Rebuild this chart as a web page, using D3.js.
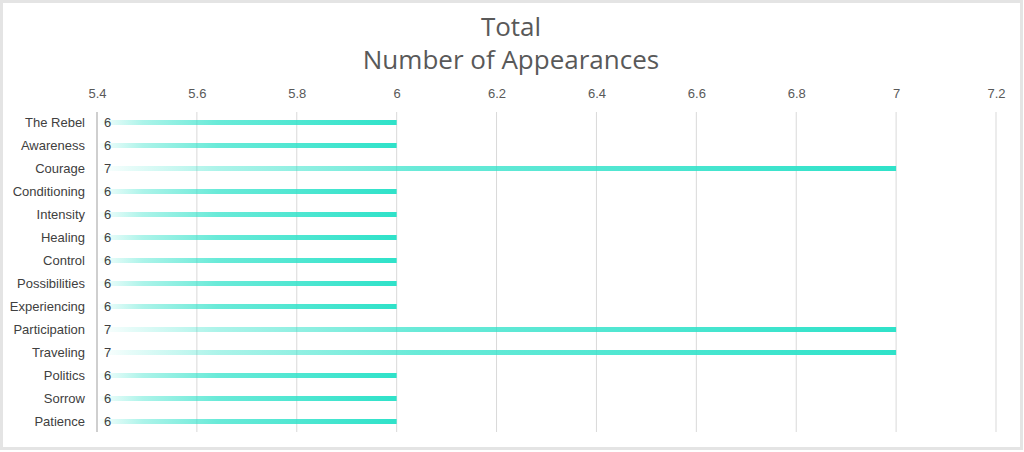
<!DOCTYPE html>
<html><head><meta charset="utf-8">
<script src="https://cdn.jsdelivr.net/npm/d3@7"></script>
<style>html,body{margin:0;padding:0;background:#fff;}svg{display:block;}</style>
</head><body>
<script>
const categories = ["The Rebel","Awareness","Courage","Conditioning","Intensity","Healing","Control","Possibilities","Experiencing","Participation","Traveling","Politics","Sorrow","Patience"];
const values = [6,6,7,6,6,6,6,6,6,7,7,6,6,6];
const tickValues = [5.4,5.6,5.8,6,6.2,6.4,6.6,6.8,7,7.2];
const titleLines = ["Total","Number of Appearances"];

const W = 1024, H = 452;
const svg = d3.select("body").append("svg").attr("width", W).attr("height", H);

svg.append("rect").attr("x",1.5).attr("y",1.5).attr("width",W-4).attr("height",H-5)
  .attr("fill","#fff").attr("stroke","#e4e4e4").attr("stroke-width",3);

const x = d3.scaleLinear().domain([5.4,7.2]).range([97,996]);
const y = d3.scaleBand().domain(categories).range([111,433]).paddingInner(0).paddingOuter(0);

const defs = svg.append("defs");
const grad = defs.append("linearGradient").attr("id","barGrad").attr("x1","0%").attr("x2","100%").attr("y1","0%").attr("y2","0%");
grad.append("stop").attr("offset","0%").attr("stop-color","#2fe2c9").attr("stop-opacity",0);
grad.append("stop").attr("offset","4%").attr("stop-color","#2fe2c9").attr("stop-opacity",0.12);
grad.append("stop").attr("offset","15%").attr("stop-color","#2fe2c9").attr("stop-opacity",0.4);
grad.append("stop").attr("offset","40%").attr("stop-color","#2fe2c9").attr("stop-opacity",0.72);
grad.append("stop").attr("offset","100%").attr("stop-color","#2fe2c9").attr("stop-opacity",1);

// title
svg.append("g").selectAll("text").data(titleLines).join("text")
  .attr("x",511).attr("y",(d,i)=>36+i*33)
  .attr("text-anchor","middle")
  .attr("font-family","'Open Sans', 'Noto Sans', sans-serif")
  .attr("font-size",26).attr("fill","#595959").text(d=>d);

// gridlines
svg.append("g").selectAll("line").data(tickValues.slice(1)).join("line")
  .attr("x1",d=>x(d)).attr("x2",d=>x(d)).attr("y1",112).attr("y2",432)
  .attr("stroke","#d9d9d9").attr("stroke-width",1);
svg.append("line").attr("x1",x(5.4)).attr("x2",x(5.4)).attr("y1",112).attr("y2",432)
  .attr("stroke","#bfbfbf").attr("stroke-width",1.5);

// top axis
const xAxis = d3.axisTop(x).tickValues(tickValues).tickSize(0).tickFormat(d3.format("~g"));
const gx = svg.append("g").attr("transform","translate(0,101)").call(xAxis);
gx.select(".domain").remove();
gx.selectAll("text").attr("font-family","'Liberation Sans', Arial, sans-serif").attr("font-size",13).attr("fill","#595959");

// y axis labels
const yAxis = d3.axisLeft(y).tickSize(0).tickPadding(12);
const gy = svg.append("g").attr("transform",`translate(${x(5.4)},0)`).call(yAxis);
gy.select(".domain").remove();
gy.selectAll("text").attr("font-family","'Liberation Sans', Arial, sans-serif").attr("font-size",13).attr("fill","#404040");

// bars
const bh = 5;
svg.append("g").selectAll("rect").data(values).join("rect")
  .attr("x",x(5.4)+1).attr("y",(d,i)=>y(categories[i])+y.bandwidth()/2-bh/2)
  .attr("width",d=>x(d)-x(5.4)-1).attr("height",bh).attr("fill","url(#barGrad)");

// value labels
svg.append("g").selectAll("text").data(values).join("text")
  .attr("x",x(5.4)+7).attr("y",(d,i)=>y(categories[i])+y.bandwidth()/2)
  .attr("dy","0.36em")
  .attr("font-family","'Liberation Sans', Arial, sans-serif").attr("font-size",13).attr("fill","#404040")
  .text(d=>d);
</script>
</body></html>
